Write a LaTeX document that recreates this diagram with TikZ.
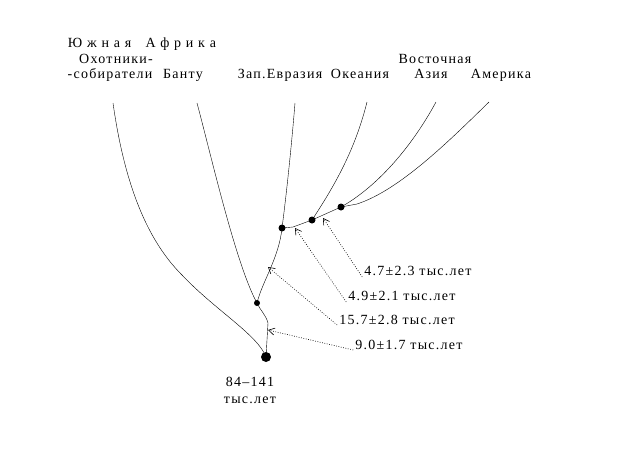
\documentclass[tikz,border=0pt]{standalone}
\usepackage{fontspec}
\setmainfont{Liberation Serif}[LetterSpace=9]
\usetikzlibrary{arrows.meta}

\begin{document}
\begin{tikzpicture}[x=1pt,y=1pt,yscale=-1,xscale=1,
  txt/.style={inner sep=0pt,text height=9.5pt,text depth=3pt,font=\fontsize{14}{16}\selectfont},
  dot/.style={fill=black},
  datearr/.style={line width=0.6pt,dash pattern={on 0.8pt off 1.6pt},-{Straight Barb[length=6pt,width=7pt]}}]
\useasboundingbox (0,0) rectangle (633,464);

% branch points
\coordinate (root) at (266,357);
\coordinate (nA) at (257,303);
\coordinate (nB) at (282,228);
\coordinate (nC) at (312,220);
\coordinate (nD) at (341,207);
% leaf ends
\coordinate (hunt) at (113,103);
\coordinate (bantu) at (197,103);
\coordinate (eur) at (295,103);
\coordinate (ocean) at (367,102);
\coordinate (asia) at (436,102);
\coordinate (amer) at (489,102);
% arrow tips
\coordinate (t90) at (268,330);
\coordinate (t157) at (268,267);
\coordinate (t49) at (295,228);
\coordinate (t47) at (323,218);

%Curve Lines
\draw (root) .. controls (258,335) and (215,310) .. (182,275) .. controls (152,245) and (126,195) .. (hunt);
\draw (nA) .. controls (236,265) and (211,155) .. (bantu);
\draw (nB) .. controls (287,190) and (292,140) .. (eur);
\draw (root) -- (268,323) .. controls (266,315) and (260,310) .. (nA);
\draw (nA) .. controls (262,282) and (279,258) .. (nB);
\draw (nB) -- (293,227) -- (nC);
\draw (nC) .. controls (335,185) and (355,150) .. (ocean);
\draw (nC) -- (nD);
\draw (nD) .. controls (375,188) and (410,150) .. (asia);
\draw (nD) -- (357,204) .. controls (400,190) and (450,140) .. (amer);

%Dots
\fill [dot] (root) circle (5);
\fill [dot] (nA) circle (3);
\fill [dot] (nB) circle (3.5);
\fill [dot] (nC) circle (3.5);
\fill [dot] (nD) circle (3.5);

% Text Node
\node (lsa) [txt] at (142,44) {Ю ж н а я \ \ А ф р и к а};
\node (lhg1) [txt] at (116,60) {Охотники-};
\node (lhg2) [txt] at (110,75) {-собиратели};
\node (lbt) [txt] at (183,75) {Банту};
\node (leu) [txt] at (280,75) {Зап.Евразия};
\node (loc) [txt] at (360,75) {Океания};
\node (lea1) [txt] at (435,60) {Восточная};
\node (lea2) [txt] at (431,75) {Азия};
\node (lam) [txt] at (501,75) {Америка};
\node (lrt1) [txt] at (250,383) {84–141};
\node (lrt2) [txt] at (250,400) {тыс.лет};

% dates
\node (l90) [txt] at (409,346) {9.0±1.7 тыс.лет};
\node (l157) [txt] at (397,321) {15.7±2.8 тыс.лет};
\node (l49) [txt] at (402,297) {4.9±2.1 тыс.лет};
\node (l47) [txt] at (418,272) {4.7±2.3 тыс.лет};

\draw [datearr] ([xshift=-2pt,yshift=4pt]l90.west) -- (t90);
\draw [datearr] ([xshift=-2pt,yshift=4pt]l157.west) -- (t157);
\draw [datearr] ([xshift=-2pt,yshift=5pt]l49.west) -- (t49);
\draw [datearr] ([xshift=-2pt,yshift=5pt]l47.west) -- (t47);

\end{tikzpicture}
\end{document}
